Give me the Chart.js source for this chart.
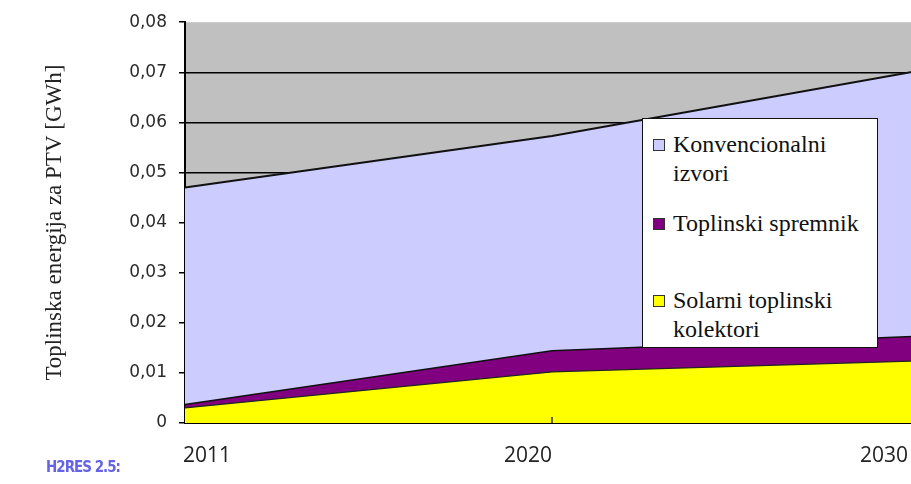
<!DOCTYPE html>
<html>
<head>
<meta charset="utf-8">
<script src="https://cdn.jsdelivr.net/npm/chart.js@4.4.0/dist/chart.umd.min.js"></script>
<style>
  html, body { margin: 0; padding: 0; background: #fff; overflow: hidden; }
  #wrap { position: relative; width: 911px; height: 484px; overflow: hidden; }
  #legendBox {
    position: absolute; left: 642px; top: 118px; width: 234px; height: 228px;
    background: #fff; border: 1.5px solid #111;
    font-family: "Liberation Serif", "Times New Roman", serif; font-size: 24px; color: #111;
  }
  .item { position: absolute; left: 30px; line-height: 29px; white-space: nowrap; }
  .sw { position: absolute; left: -20px; top: 9px; width: 10px; height: 10px; border: 1px solid #333; }
  #mark {
    position: absolute; left: 46px; top: 458px;
    font-family: "DejaVu Sans Condensed", "DejaVu Sans", sans-serif; font-weight: bold; font-size: 15px;
    color: #6464e4; letter-spacing: -1px;
  }
</style>
</head>
<body>
<div id="wrap">
  <canvas id="energyChart" width="919" height="484"></canvas>
  <div id="legendBox"></div>
  <div id="mark">H2RES 2.5:</div>
</div>
<script>
// Years on the x axis
const years = ['2011', '2020', '2030'];

// Heat energy for PTV (GWh), stacked from the bottom
const solarCollectors = [0.0030, 0.0102, 0.0124];   // Solarni toplinski kolektori
const heatStorage = [0.0007, 0.0042, 0.0049];       // Toplinski spremnik
const conventional = [0.0433, 0.0429, 0.0530];      // Konvencionalni izvori

// Y axis ticks
const yTicks = [0, 0.01, 0.02, 0.03, 0.04, 0.05, 0.06, 0.07, 0.08];

const seriesNames = ['Solarni toplinski kolektori', 'Toplinski spremnik', 'Konvencionalni izvori'];
const seriesColors = ['#ffff00', '#800080', '#ccccff'];

// Grey plot background like the original spreadsheet chart
const plotBackground = {
  id: 'plotBackground',
  beforeDraw(chart) {
    const { ctx, chartArea } = chart;
    ctx.save();
    ctx.fillStyle = '#c0c0c0';
    ctx.fillRect(chartArea.left, chartArea.top, chartArea.right - chartArea.left, chartArea.bottom - chartArea.top);
    ctx.restore();
  },
};

// Year labels: first one starts at its tick, the others end at theirs
const yearLabels = {
  id: 'yearLabels',
  afterDraw(chart) {
    const { ctx } = chart;
    const xScale = chart.scales.x;
    ctx.save();
    ctx.font = '21px "Open Sans", sans-serif';
    ctx.fillStyle = '#222';
    ctx.textBaseline = 'middle';
    years.forEach((year, i) => {
      let x = xScale.getPixelForValue(i);
      if (i === 0) {
        ctx.textAlign = 'left';
        x -= 2;
      } else {
        ctx.textAlign = 'right';
        x = Math.min(x, 908);
      }
      ctx.fillText(year, x, 456);
      // small inner tick mark like the original
      if (i === 1) {
        ctx.strokeStyle = '#000';
        ctx.lineWidth = 1.2;
        ctx.beginPath();
        ctx.moveTo(xScale.getPixelForValue(i), xScale.top);
        ctx.lineTo(xScale.getPixelForValue(i), xScale.top - 6);
        ctx.stroke();
      }
    });
    ctx.restore();
  },
};

const ctx = document.getElementById('energyChart').getContext('2d');
new Chart(ctx, {
  type: 'line',
  data: {
    labels: years,
    datasets: [
      {
        label: seriesNames[0],
        data: solarCollectors,
        backgroundColor: seriesColors[0],
        borderColor: '#222',
        borderWidth: 1.3,
        fill: 'origin',
      },
      {
        label: seriesNames[1],
        data: heatStorage,
        backgroundColor: seriesColors[1],
        borderColor: '#111',
        borderWidth: 1.5,
        fill: '-1',
      },
      {
        label: seriesNames[2],
        data: conventional,
        backgroundColor: seriesColors[2],
        borderColor: '#111',
        borderWidth: 2,
        fill: '-1',
      },
    ],
  },
  options: {
    responsive: false,
    animation: false,
    layout: { padding: { top: 22, right: 0, left: 0, bottom: 0 } },
    elements: { point: { radius: 0 }, line: { tension: 0 } },
    scales: {
      x: {
        type: 'category',
        offset: false,
        grid: { display: false },
        border: { display: true, color: '#000', width: 2 },
        ticks: { display: false },
        afterFit: (scale) => { scale.height = 61; },
      },
      y: {
        stacked: true,
        min: 0,
        max: 0.08,
        afterBuildTicks: (scale) => { scale.ticks = yTicks.map((v) => ({ value: v })); },
        grid: {
          color: (c) => (c.tick && c.tick.value >= 0.08 ? 'rgba(0,0,0,0)' : '#000'),
          tickColor: '#000',
          tickLength: 6,
          lineWidth: 1.5,
        },
        border: { display: true, color: '#000', width: 2 },
        ticks: {
          padding: 12,
          color: '#2a2a2a',
          font: { family: '"DejaVu Sans", sans-serif', size: 17 },
          callback: (v) => (v === 0 ? '0' : v.toFixed(2).replace('.', ',')),
        },
        title: {
          display: true,
          text: 'Toplinska energija za PTV [GWh]',
          color: '#222',
          font: { family: '"Liberation Serif", "Times New Roman", serif', size: 23 },
          padding: { top: 41, bottom: 0 },
        },
        afterFit: (scale) => { scale.width = 185; },
      },
    },
    plugins: {
      legend: { display: false },
      tooltip: { enabled: false },
    },
  },
  plugins: [plotBackground, yearLabels],
});

// Legend drawn as HTML, top entry first like the original
const legendBox = document.getElementById('legendBox');
const legendItems = [
  { idx: 2, lines: ['Konvencionalni', 'izvori'], top: 11 },
  { idx: 1, lines: ['Toplinski spremnik'], top: 90 },
  { idx: 0, lines: ['Solarni toplinski', 'kolektori'], top: 167 },
];
legendItems.forEach((item) => {
  const div = document.createElement('div');
  div.className = 'item';
  div.style.top = item.top + 'px';
  div.innerHTML = `<span class="sw" style="background:${seriesColors[item.idx]}"></span>` + item.lines.join('<br>');
  legendBox.appendChild(div);
});
</script>
</body>
</html>
